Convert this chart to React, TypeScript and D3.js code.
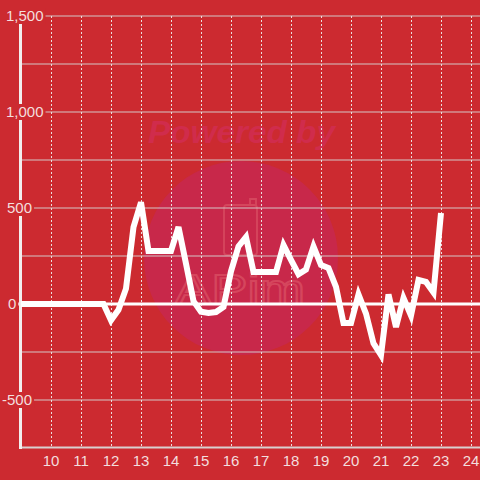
import React from "react";
import * as d3 from "d3";

const days = [
  9.0, 9.25, 9.5, 9.75, 10.0, 10.25, 10.5, 10.75, 11.0, 11.25, 11.5, 11.75,
  12.0, 12.25, 12.5, 12.75, 13.0, 13.25, 13.5, 13.75, 14.0, 14.25, 14.5, 14.75,
  15.0, 15.25, 15.5, 15.75, 16.0, 16.25, 16.5, 16.75, 17.0, 17.25, 17.5, 17.75,
  18.0, 18.25, 18.5, 18.75, 19.0, 19.25, 19.5, 19.75, 20.0, 20.25, 20.5, 20.75,
  21.0, 21.25, 21.5, 21.75, 22.0, 22.25, 22.5, 22.75, 23.0,
];
const values = [
  0, 0, 0, 0, 0, 0, 0, 0, 0, 0, 0, 0,
  -85, -30, 80, 400, 530, 276, 276, 276, 276, 401, 210, 15,
  -40, -47, -42, -15, 170, 300, 349, 167, 167, 167, 167, 307,
  230, 155, 180, 300, 203, 187, 89, -99, -99, 50, -50, -205,
  -266, 50, -120, 31, -60, 125, 115, 60, 474,
];
const xTicks = [10, 11, 12, 13, 14, 15, 16, 17, 18, 19, 20, 21, 22, 23, 24];
const yGrid = [-500, -250, 0, 250, 500, 750, 1000, 1250, 1500];
const yLabels = [-500, 0, 500, 1000, 1500];

const W = 480;
const H = 480;
const BG = "#cc2a30";
const LABEL = "#f3dede";
const FONT = "'Liberation Sans', Arial, sans-serif";
const FS = 15;

function textWidth(s: string) {
  let w = 0;
  for (const c of s) {
    if (c === ",") w += 0.278;
    else if (c === "-") w += 0.333;
    else w += 0.556;
  }
  return w * FS;
}

export default function App() {
  const x = d3.scaleLinear().domain([8.967, 24.3]).range([20, 480]);
  const y = d3.scaleLinear().domain([-750, 1500]).range([448, 16]);
  const fmt = d3.formatLocale({ decimal: ".", thousands: ",", grouping: [3], currency: ["", ""], minus: "-" }).format(",");
  const pts = days.map((d, i) => [d, values[i]] as [number, number]);
  const line = d3
    .line<[number, number]>()
    .x((d) => x(d[0]))
    .y((d) => y(d[1]));

  return (
    <svg
      width={W}
      height={H}
      style={{ position: "fixed", left: 0, top: 0, display: "block" }}
    >
      <rect x={0} y={0} width={W} height={H} fill={BG} />
      {/* watermark */}
      <circle cx={241} cy={258} r={97} fill="#c8284a" />
      <text
        x={148}
        y={143}
        textLength={187}
        lengthAdjust="spacingAndGlyphs"
        fontFamily={FONT}
        fontSize={31}
        fontWeight="bold"
        fontStyle="italic"
        fill="#d02c4c"
      >
        Powered by
      </text>
      <g fill="none" stroke="#e0606e" strokeWidth={1.8} opacity={0.55}>
        <rect x={224} y={205} width={33} height={50} rx={3} />
        <path d="M250,205 L250,199 L256,199 L256,205" />
      </g>
      <text
        x={175}
        y={304}
        textLength={130}
        lengthAdjust="spacingAndGlyphs"
        fontFamily={FONT}
        fontSize={42}
        fill="none"
        stroke="#e0606e"
        strokeWidth={1.8}
        opacity={0.55}
      >
        APim
      </text>
      {/* horizontal grid */}
      {yGrid.map((v) => (
        <line
          key={"h" + v}
          x1={20}
          x2={480}
          y1={y(v)}
          y2={y(v)}
          stroke="#d4c6c6"
          strokeWidth={1}
        />
      ))}
      {/* vertical dotted grid */}
      {xTicks.map((t) => (
        <line
          key={"v" + t}
          x1={Math.round(x(t)) + 0.5}
          x2={Math.round(x(t)) + 0.5}
          y1={16}
          y2={448}
          stroke="#eadede"
          strokeWidth={1}
          strokeDasharray="2,2"
        />
      ))}
      {/* zero line */}
      <line x1={17} x2={480} y1={y(0)} y2={y(0)} stroke="#ffffff" strokeWidth={3} />
      {/* axes */}
      <line x1={20} x2={480} y1={447.5} y2={447.5} stroke="#d8d0d0" strokeWidth={2} />
      <line x1={20.5} x2={20.5} y1={16} y2={449} stroke="#f2eeee" strokeWidth={3} />
      {/* data line */}
      <path
        d={line(pts) || ""}
        fill="none"
        stroke="#ffffff"
        strokeWidth={6}
        strokeLinejoin="miter"
        strokeLinecap="butt"
      />
      {/* y labels */}
      {yLabels.map((v) => {
        const s = fmt(v);
        const x0 = s.startsWith("-") ? 2 : v === 0 ? 8 : s.length === 3 ? 7 : 6;
        const w = textWidth(s);
        return (
          <g key={"yl" + v}>
            <rect x={x0 - 1} y={y(v) - 8} width={w + 3} height={16} fill={BG} />
            <text
              x={x0}
              y={y(v)}
              dy="0.36em"
              fontFamily={FONT}
              fontSize={FS}
              fill={LABEL}
            >
              {s}
            </text>
          </g>
        );
      })}
      {/* x labels */}
      {xTicks.map((t) => (
        <text
          key={"xl" + t}
          x={x(t)}
          y={466}
          textAnchor="middle"
          fontFamily={FONT}
          fontSize={FS}
          fill={LABEL}
        >
          {t}
        </text>
      ))}
    </svg>
  );
}
